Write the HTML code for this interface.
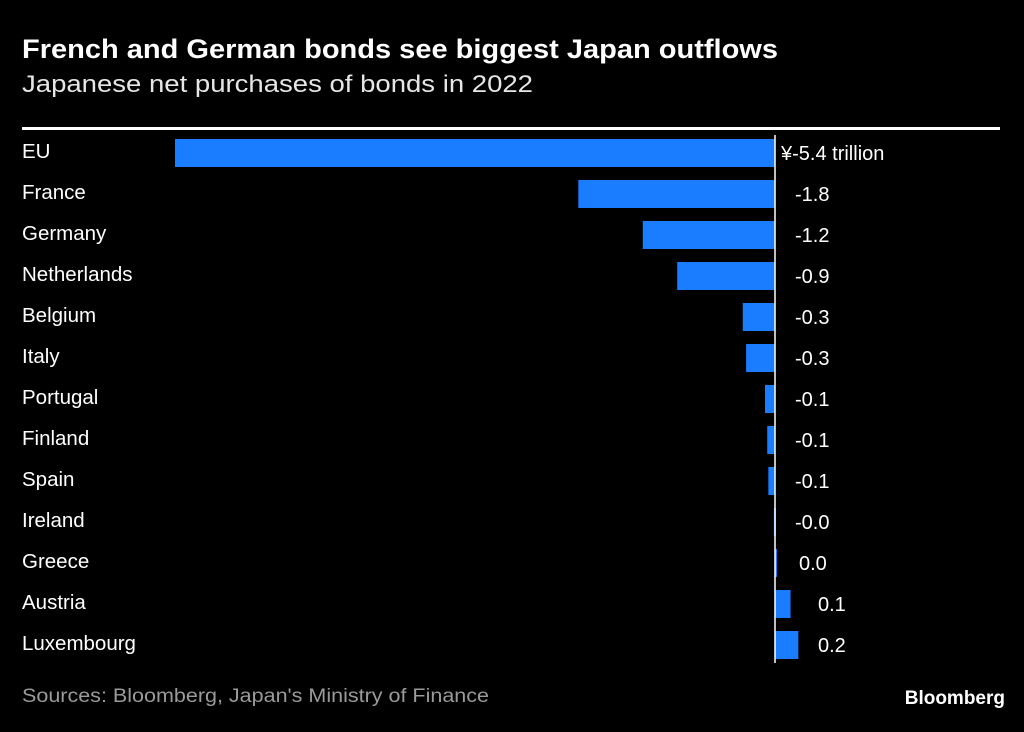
<!DOCTYPE html>
<html><head><meta charset="utf-8"><style>
body{margin:0;background:#000;width:1024px;height:727px;overflow:hidden;font-family:"Liberation Sans",sans-serif;color:#fff}
</style></head><body>
<svg width="1024" height="727">
<text x="22" y="58" font-size="27" font-weight="bold" fill="#fff" textLength="756" lengthAdjust="spacingAndGlyphs">French and German bonds see biggest Japan outflows</text>
<text x="22" y="92" font-size="24" fill="#e6e6e6" textLength="511" lengthAdjust="spacingAndGlyphs">Japanese net purchases of bonds in 2022</text>
<rect x="22" y="127" width="978" height="3" fill="#fff"/>
<g id="bars"></g>
<text x="22" y="702" font-size="19" fill="#9a9a9a" textLength="467" lengthAdjust="spacingAndGlyphs">Sources: Bloomberg, Japan's Ministry of Finance</text>
<text x="1005" y="704" font-size="19" font-weight="bold" fill="#fff" text-anchor="end">Bloomberg</text>
</svg>
<script>
const categories=["EU","France","Germany","Netherlands","Belgium","Italy","Portugal","Finland","Spain","Ireland","Greece","Austria","Luxembourg"];
const values=[-5.4,-1.77,-1.19,-0.88,-0.29,-0.26,-0.09,-0.07,-0.06,-0.01,0.01,0.14,0.21];
const valueLabels=["¥-5.4 trillion","-1.8","-1.2","-0.9","-0.3","-0.3","-0.1","-0.1","-0.1","-0.0","0.0","0.1","0.2"];
const ns="http://www.w3.org/2000/svg";
const g=document.getElementById('bars');
const x0=775, scale=600/5.4;
function xs(v){return x0+v*scale;}
function yc(i){return 153+i*41;}
categories.forEach((c,i)=>{
  const y=yc(i);
  const t=document.createElementNS(ns,'text');
  t.setAttribute('x',22);t.setAttribute('y',y+5);t.setAttribute('font-size','20.5');t.setAttribute('fill','#fff');
  t.textContent=c;
  
  
  g.appendChild(t);
  const v=values[i];
  const r=document.createElementNS(ns,'rect');
  const a=Math.min(xs(v),x0), w=Math.max(Math.abs(xs(v)-x0),2);
  r.setAttribute('x',a);r.setAttribute('y',y-14);r.setAttribute('width',w);r.setAttribute('height',28);r.setAttribute('fill','#1a7cff');
  
  
  g.appendChild(r);
  const l=document.createElementNS(ns,'text');
  l.setAttribute('x',i===0?781:(v>=0.05?818:(v>0?799:795)));l.setAttribute('y',y+7);l.setAttribute('font-size','20');l.setAttribute('fill','#fff');
  l.textContent=valueLabels[i];
  
  
  g.appendChild(l);
});
const z=document.createElementNS(ns,'line');
z.setAttribute('x1',x0);z.setAttribute('x2',x0);z.setAttribute('y1',135);z.setAttribute('y2',663);z.setAttribute('stroke','#fff');z.setAttribute('stroke-width','1.5');


g.appendChild(z);
</script>
</body></html>
